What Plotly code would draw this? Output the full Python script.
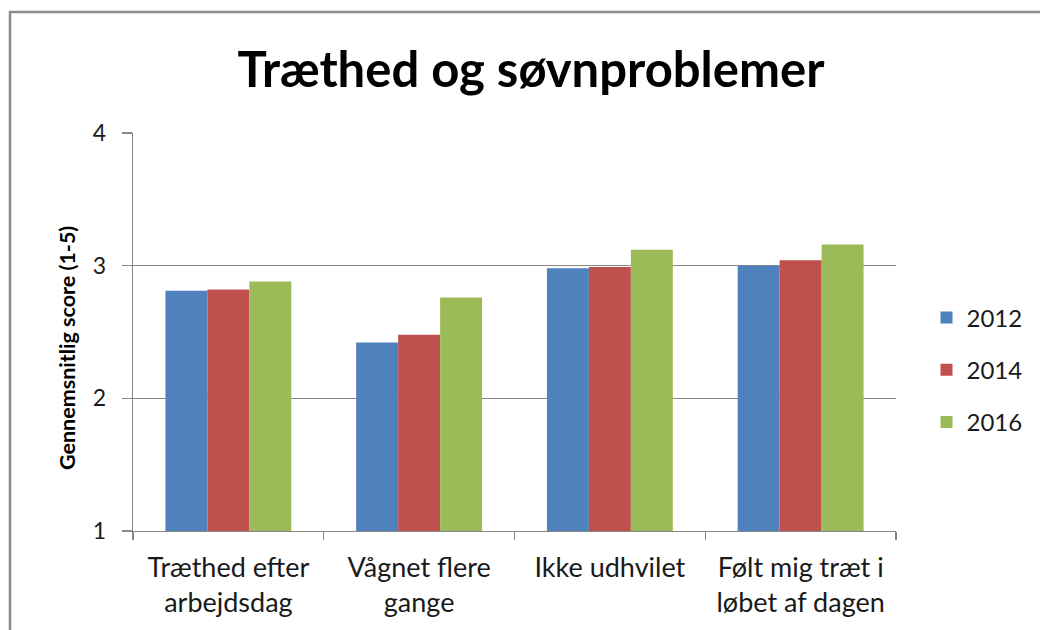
import plotly.graph_objects as go

categories = ["Træthed efter<br>arbejdsdag", "Vågnet flere<br>gange", "Ikke udhvilet", "Følt mig træt i<br>løbet af dagen"]
series_names = ["2012", "2014", "2016"]
values_2012 = [2.81, 2.42, 2.98, 3.00]
values_2014 = [2.82, 2.48, 2.99, 3.04]
values_2016 = [2.88, 2.76, 3.12, 3.16]
colors = ["#4F81BD", "#C0504D", "#9BBB59"]
y_ticks = [1, 2, 3, 4]

FONT = "Lato, 'Liberation Sans', sans-serif"
GRAY = "#878787"

W, H = 1040, 630
L, R, T, B = 133, 144, 133, 99
pw = W - L - R
ph = H - T - B

def px_x(p):
    return (p - L) / pw

def px_y(p):
    return (H - B - p) / ph

fig = go.Figure()
for name, vals, col in zip(series_names, [values_2012, values_2014, values_2016], colors):
    fig.add_trace(go.Bar(
        x=categories, y=vals, name=name, legendgroup=name,
        marker=dict(color=col, line=dict(width=0)),
        base=0,
    ))

fig.update_layout(
    width=W, height=H,
    margin=dict(l=L, r=R, t=T, b=B, pad=0),
    paper_bgcolor="white", plot_bgcolor="white",
    barmode="group", bargap=0.34, bargroupgap=0,
    font=dict(family=FONT, color="#1a1a1a", size=24),
    title=dict(
        text="<b>Træthed og søvnproblemer</b>",
        font=dict(family=FONT, size=49, color="black"),
        x=px_x(531), xref="paper", xanchor="center",
        y=1 - 70 / H, yref="container", yanchor="middle",
    ),
    xaxis=dict(
        showline=True, linecolor=GRAY, linewidth=1.3,
        ticks="outside", tickson="boundaries", ticklen=8, tickcolor=GRAY, tickwidth=1.3,
        tickfont=dict(family=FONT, size=27, color="#1a1a1a"),
        ticklabelstandoff=12,
        showgrid=False,
    ),
    yaxis=dict(
        range=[1, 4], tickvals=y_ticks,
        showline=True, linecolor=GRAY, linewidth=1.3,
        ticks="outside", ticklen=10, tickcolor=GRAY, tickwidth=1.3,
        showgrid=True, gridcolor=GRAY, gridwidth=1.3,
        tickfont=dict(family=FONT, size=23, color="#1a1a1a"),
        ticklabelstandoff=11,
        zeroline=False,
    ),
    legend=dict(
        x=1.04, xanchor="left", y=px_y(370), yanchor="middle",
        font=dict(family=FONT, size=24, color="#1a1a1a"),
        tracegroupgap=18, traceorder="grouped",
        bgcolor="rgba(0,0,0,0)",
    ),
    annotations=[dict(
        text="<b>Gennemsnitlig score (1-5)</b>", textangle=-90,
        xref="paper", yref="paper", x=px_x(67), y=px_y(348),
        xanchor="center", yanchor="middle", showarrow=False,
        font=dict(family=FONT, size=21.5, color="black"),
    )],
    shapes=[dict(
        type="rect", xref="paper", yref="paper",
        x0=px_x(10), x1=px_x(1060), y0=px_y(650), y1=px_y(12),
        line=dict(color="#8C8C8C", width=2.5), fillcolor="rgba(0,0,0,0)", layer="below",
    )],
)

fig.write_html(
    "out.html",
    config={"displayModeBar": False, "staticPlot": True},
    post_script="document.body.style.margin='0';document.body.style.overflow='hidden';",
)
